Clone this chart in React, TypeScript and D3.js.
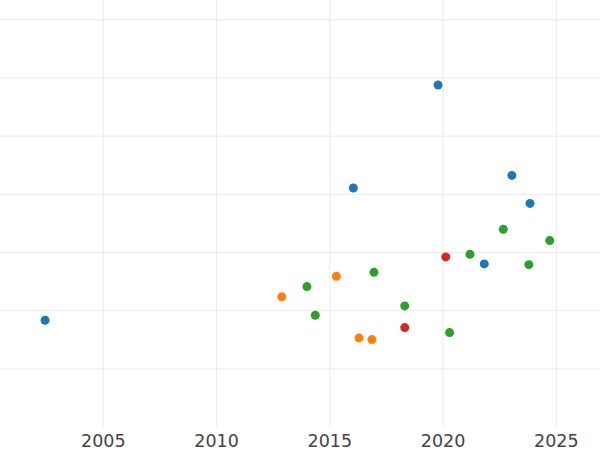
import React from "react";
import * as d3 from "d3";

const blueX = [2002.43, 2019.78, 2016.04, 2023.04, 2023.84, 2021.82];
const blueY = [8.35, 48.78, 31.09, 33.25, 28.44, 18.03];
const orangeX = [2012.88, 2015.29, 2016.29, 2016.86];
const orangeY = [12.37, 15.9, 5.32, 5.03];
const greenX = [2013.99, 2014.36, 2016.95, 2018.31, 2020.29, 2021.19, 2022.66, 2023.79, 2024.71];
const greenY = [14.14, 9.21, 16.59, 10.82, 6.23, 19.68, 23.98, 17.91, 22.04];
const redX = [2020.12, 2018.31];
const redY = [19.24, 7.09];

const xTicks = [2005, 2010, 2015, 2020, 2025];
const yTicks = [0, 10, 20, 30, 40, 50, 60];

const seriesColors = ["#1f77b4", "#ff7f0e", "#2ca02c", "#d62728"];

export default function App() {
  const W = 600;
  const H = 450;
  const plotBottom = 427;
  const x = d3.scaleLinear().domain([2000.44, 2026.93]).range([0, W]);
  const y = d3.scaleLinear().domain([-10, 63.4]).range([plotBottom, 0]);

  const series = [
    { xs: blueX, ys: blueY },
    { xs: orangeX, ys: orangeY },
    { xs: greenX, ys: greenY },
    { xs: redX, ys: redY },
  ];

  return (
    <svg
      width={W}
      height={H}
      style={{ position: "absolute", left: 0, top: 0, background: "#fff" }}
    >
      <g>
        {yTicks.map((t) => (
          <line key={"y" + t} x1={0} x2={W} y1={y(t)} y2={y(t)} stroke="#ebebeb" strokeWidth={1} />
        ))}
        {xTicks.map((t) => (
          <line key={"x" + t} x1={x(t)} x2={x(t)} y1={0} y2={plotBottom} stroke="#ebebeb" strokeWidth={1} />
        ))}
      </g>
      <g>
        {series.map((s, si) =>
          s.xs.map((xv, i) => (
            <circle key={si + "-" + i} cx={x(xv)} cy={y(s.ys[i])} r={4.5} fill={seriesColors[si]} />
          ))
        )}
      </g>
      <g>
        {xTicks.map((t) => (
          <text
            key={"l" + t}
            x={x(t)}
            y={447.3}
            textAnchor="middle"
            fontFamily="DejaVu Sans"
            fontSize={17.5}
            fill="#444"
          >
            {t}
          </text>
        ))}
      </g>
    </svg>
  );
}
